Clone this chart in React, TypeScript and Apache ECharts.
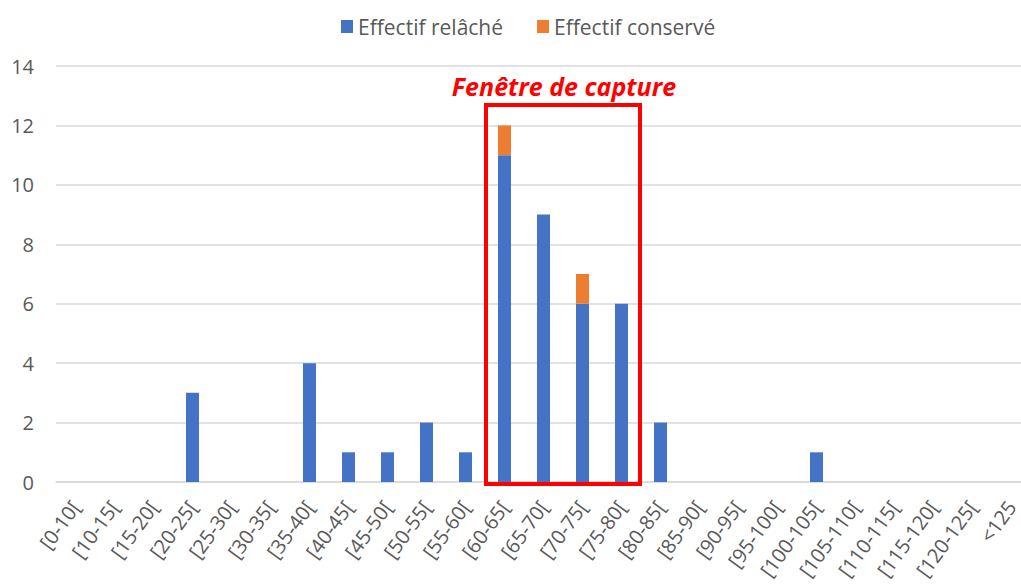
import React, { useEffect, useRef } from "react";
import * as echarts from "echarts";

const categories = ["[0-10[", "[10-15[", "[15-20[", "[20-25[", "[25-30[", "[30-35[", "[35-40[", "[40-45[", "[45-50[", "[50-55[", "[55-60[", "[60-65[", "[65-70[", "[70-75[", "[75-80[", "[80-85[", "[85-90[", "[90-95[", "[95-100[", "[100-105[", "[105-110[", "[110-115[", "[115-120[", "[120-125[", "<125"];
const relache = [0, 0, 0, 3, 0, 0, 4, 1, 1, 2, 1, 11, 9, 6, 6, 2, 0, 0, 0, 1, 0, 0, 0, 0, 0];
const conserve = [0, 0, 0, 0, 0, 0, 0, 0, 0, 0, 0, 1, 0, 1, 0, 0, 0, 0, 0, 0, 0, 0, 0, 0, 0];
const yTicks = [0, 2, 4, 6, 8, 10, 12, 14];

const FONT = "Open Sans";

export default function App() {
  const ref = useRef<HTMLDivElement>(null);
  useEffect(() => {
    const chart = echarts.init(ref.current!, null, { renderer: "svg" });
    chart.setOption({
      animation: false,
      backgroundColor: "#ffffff",
      textStyle: { fontFamily: FONT },
      legend: {
        top: 11,
        left: 336,
        itemWidth: 12,
        itemHeight: 13,
        itemGap: 34,
        icon: "rect",
        textStyle: { color: "#595959", fontSize: 21, fontFamily: FONT },
        data: ["Effectif relâché", "Effectif conservé"],
      },
      grid: { left: 56, top: 66, right: -10, bottom: 106, containLabel: false, outerBoundsMode: "none" },
      xAxis: {
        type: "category",
        data: categories,
        axisLine: { show: true, lineStyle: { color: "#d9d9d9", width: 1.5 } },
        axisTick: { show: false },
        axisLabel: { rotate: 54, interval: 0, color: "#595959", fontSize: 20, margin: 21, fontFamily: FONT },
      },
      yAxis: {
        type: "value",
        min: 0,
        max: yTicks[yTicks.length - 1],
        interval: 2,
        axisLine: { show: false },
        axisTick: { show: false },
        splitLine: { lineStyle: { color: "#d9d9d9", width: 1.5 } },
        axisLabel: { color: "#595959", fontSize: 20, margin: 22, fontFamily: FONT },
      },
      series: [
        {
          name: "Effectif relâché",
          type: "bar",
          stack: "total",
          data: relache,
          barWidth: 13,
          itemStyle: { color: "#4472C4" },
        },
        {
          name: "Effectif conservé",
          type: "bar",
          stack: "total",
          data: conserve,
          barWidth: 13,
          itemStyle: { color: "#ED7D31" },
        },
      ],
      graphic: [
        {
          type: "rect",
          shape: { x: 486, y: 105, width: 154, height: 379 },
          style: { fill: "none", stroke: "#FF0000", lineWidth: 4 },
          z: 100,
        },
        {
          type: "text",
          x: 564,
          y: 86,
          style: {
            text: "Fenêtre de capture",
            fill: "#FF0000",
            font: `italic bold 25px ${FONT}`,
            textAlign: "center",
            textVerticalAlign: "middle",
          },
          z: 100,
        },
      ],
    });
    return () => chart.dispose();
  }, []);
  return (
    <div
      ref={ref}
      style={{ position: "fixed", left: 0, top: 0, width: 1021, height: 588 }}
    />
  );
}
